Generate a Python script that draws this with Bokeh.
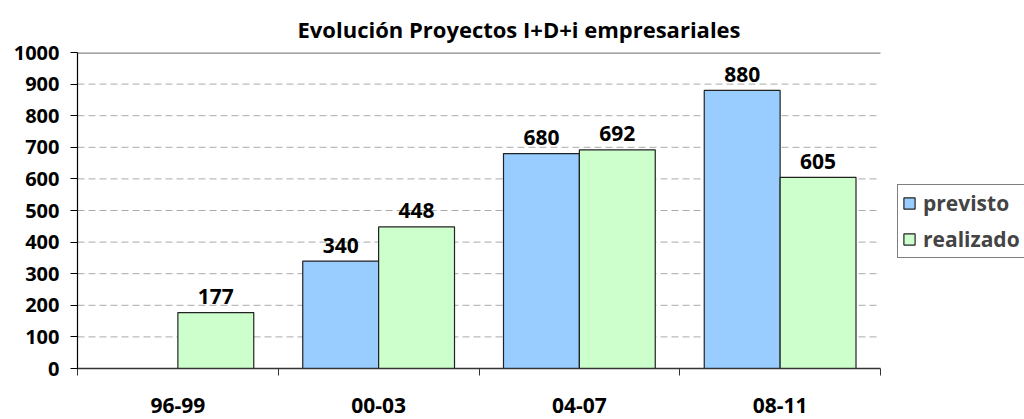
import numpy as np
from bokeh.plotting import figure
from bokeh.models import (ColumnDataSource, Range1d, FixedTicker,
                          Legend, LegendItem, Title)
from bokeh.core.properties import value
from bokeh.embed import file_html
from bokeh.resources import INLINE

periods = ["96-99", "00-03", "04-07", "08-11"]
previsto = [np.nan, 340, 680, 880]
realizado = [177, 448, 692, 605]
y_ticks = list(range(0, 1001, 100))

FONT = "Open Sans"
BLUE = "#99CCFF"
GREEN = "#CCFFCC"

n = len(periods)
idx = np.arange(n)
offset = 0.189
bw = 0.378

# frame spans 77..1024 px; category area spans 77..880 px
x_end = n * (1024 - 77) / (880 - 77)

p = figure(width=1024, height=419, output_backend="svg", toolbar_location=None,
           x_range=Range1d(0, x_end), y_range=Range1d(0, 1000),
           min_border_left=77, min_border_right=0, min_border_top=52,
           min_border_bottom=51)
p.title = None
p.outline_line_color = None
p.background_fill_color = "white"
p.border_fill_color = "white"
p.xgrid.grid_line_color = None
p.ygrid.grid_line_color = None

# dashed gridlines limited to the category area, solid line at the top
gy = y_ticks[1:-1]
p.segment(x0=[0] * len(gy), x1=[n] * len(gy), y0=gy, y1=gy,
          line_color="#aaaaaa", line_dash="7 4", line_width=1)
p.segment(x0=[0], x1=[n], y0=[y_ticks[-1]], y1=[y_ticks[-1]],
          line_color="#888888", line_width=2.5)

src_p = ColumnDataSource(dict(x=idx + 0.5 - offset, top=previsto,
                              lbl=["" if np.isnan(v) else str(int(v)) for v in previsto]))
src_r = ColumnDataSource(dict(x=idx + 0.5 + offset, top=realizado,
                              lbl=[str(v) for v in realizado]))

rp = p.vbar(x="x", top="top", width=bw, source=src_p, fill_color=BLUE,
            line_color="#222222", line_width=1.2)
rr = p.vbar(x="x", top="top", width=bw, source=src_r, fill_color=GREEN,
            line_color="#222222", line_width=1.2)

for s in (src_p, src_r):
    p.text(x="x", y="top", text="lbl", source=s, text_align="center",
           text_baseline="alphabetic", y_offset=-16, text_font=value(FONT),
           text_font_style="bold", text_font_size="21px", text_color="black")

# x axis
xa = p.xaxis[0]
xa.bounds = (0, n)
xa.ticker = FixedTicker(ticks=list(idx + 0.5), minor_ticks=list(range(n + 1)))
xa.major_label_overrides = {float(i + 0.5): c for i, c in enumerate(periods)}
xa.major_tick_line_color = None
xa.minor_tick_out = 7
xa.minor_tick_in = 0
xa.minor_tick_line_color = "#333333"
xa.axis_line_color = "#333333"
xa.axis_line_width = 1.5
xa.major_label_text_font = FONT
xa.major_label_text_font_style = "bold"
xa.major_label_text_font_size = "21px"
xa.major_label_text_color = "black"
xa.major_label_standoff = 22

# y axis
ya = p.yaxis[0]
ya.ticker = FixedTicker(ticks=y_ticks)
ya.major_tick_out = 7
ya.major_tick_in = 0
ya.minor_tick_line_color = None
ya.major_tick_line_color = "black"
ya.axis_line_color = "black"
ya.axis_line_width = 1.2
ya.major_label_text_font = FONT
ya.major_label_text_font_style = "bold"
ya.major_label_text_font_size = "20px"
ya.major_label_text_color = "black"
ya.major_label_standoff = 11

p.add_layout(Title(text="Evolución Proyectos I+D+i empresariales", align="left",
                   offset=220, text_font=FONT, text_font_style="bold",
                   text_font_size="22px", text_color="black", standoff=14,
                   vertical_align="top"), "above")

legend = Legend(items=[LegendItem(label="previsto", renderers=[rp]),
                       LegendItem(label="realizado", renderers=[rr])],
                location=(820, 110), border_line_color="black", border_line_width=1.2,
                label_text_font=FONT, label_text_font_style="bold",
                label_text_font_size="21px", glyph_width=14, glyph_height=14,
                label_height=22, label_standoff=7, padding=4, spacing=8, margin=0,
                background_fill_alpha=1)
p.add_layout(legend, "center")

open("out.html", "w").write(file_html(p, INLINE))
